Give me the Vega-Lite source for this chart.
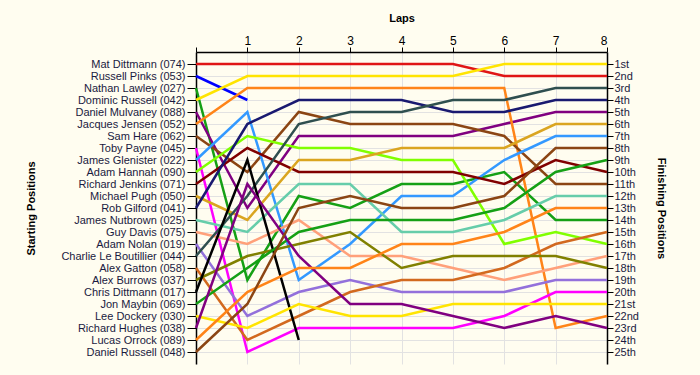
{
"$schema":"https://vega.github.io/schema/vega-lite/v6.json",
"width":411,"height":312,
"autosize":{"type":"none"},
"padding":{"left":196,"top":52,"right":93,"bottom":11},
"background":"#FFFDF0",
"config":{"view":{"stroke":null},"axis":{"labelFont":"Liberation Sans","titleFont":"Liberation Sans","labelFontSize":11,"titleFontSize":11,"titleFontWeight":"bold","titleColor":"#000","labelColor":"#1a1a40","domainColor":"#000","tickColor":"#000","gridColor":"#E2E2E2"}},
"datasets":{
"laps":[
{"d":1,"l":0,"p":1},{"d":1,"l":1,"p":1},{"d":1,"l":2,"p":1},{"d":1,"l":3,"p":1},{"d":1,"l":4,"p":1},{"d":1,"l":5,"p":1},{"d":1,"l":6,"p":2},{"d":1,"l":7,"p":2},{"d":1,"l":8,"p":2},
{"d":2,"l":0,"p":2},{"d":2,"l":1,"p":4},
{"d":3,"l":0,"p":3},{"d":3,"l":1,"p":19},{"d":3,"l":2,"p":12},{"d":3,"l":3,"p":13},{"d":3,"l":4,"p":11},{"d":3,"l":5,"p":11},{"d":3,"l":6,"p":10},{"d":3,"l":7,"p":14},{"d":3,"l":8,"p":14},
{"d":4,"l":0,"p":4},{"d":4,"l":1,"p":2},{"d":4,"l":2,"p":2},{"d":4,"l":3,"p":2},{"d":4,"l":4,"p":2},{"d":4,"l":5,"p":2},{"d":4,"l":6,"p":1},{"d":4,"l":7,"p":1},{"d":4,"l":8,"p":1},
{"d":5,"l":0,"p":5},{"d":5,"l":1,"p":13},{"d":5,"l":2,"p":7},{"d":5,"l":3,"p":7},{"d":5,"l":4,"p":7},{"d":5,"l":5,"p":7},{"d":5,"l":6,"p":6},{"d":5,"l":7,"p":5},{"d":5,"l":8,"p":5},
{"d":6,"l":0,"p":6},{"d":6,"l":1,"p":3},{"d":6,"l":2,"p":3},{"d":6,"l":3,"p":3},{"d":6,"l":4,"p":3},{"d":6,"l":5,"p":3},{"d":6,"l":6,"p":3},{"d":6,"l":7,"p":23},{"d":6,"l":8,"p":22},
{"d":7,"l":0,"p":7},{"d":7,"l":1,"p":10},{"d":7,"l":2,"p":5},{"d":7,"l":3,"p":6},{"d":7,"l":4,"p":6},{"d":7,"l":5,"p":6},{"d":7,"l":6,"p":7},{"d":7,"l":7,"p":11},{"d":7,"l":8,"p":11},
{"d":8,"l":0,"p":8},{"d":8,"l":1,"p":25},{"d":8,"l":2,"p":23},{"d":8,"l":3,"p":23},{"d":8,"l":4,"p":23},{"d":8,"l":5,"p":23},{"d":8,"l":6,"p":22},{"d":8,"l":7,"p":20},{"d":8,"l":8,"p":20},
{"d":9,"l":0,"p":9},{"d":9,"l":1,"p":5},{"d":9,"l":2,"p":19},{"d":9,"l":3,"p":16},{"d":9,"l":4,"p":12},{"d":9,"l":5,"p":12},{"d":9,"l":6,"p":9},{"d":9,"l":7,"p":7},{"d":9,"l":8,"p":7},
{"d":10,"l":0,"p":10},{"d":10,"l":1,"p":7},{"d":10,"l":2,"p":8},{"d":10,"l":3,"p":8},{"d":10,"l":4,"p":9},{"d":10,"l":5,"p":9},{"d":10,"l":6,"p":16},{"d":10,"l":7,"p":15},{"d":10,"l":8,"p":16},
{"d":11,"l":0,"p":11},{"d":11,"l":1,"p":8},{"d":11,"l":2,"p":10},{"d":11,"l":3,"p":10},{"d":11,"l":4,"p":10},{"d":11,"l":5,"p":10},{"d":11,"l":6,"p":11},{"d":11,"l":7,"p":9},{"d":11,"l":8,"p":10},
{"d":12,"l":0,"p":12},{"d":12,"l":1,"p":14},{"d":12,"l":2,"p":9},{"d":12,"l":3,"p":9},{"d":12,"l":4,"p":8},{"d":12,"l":5,"p":8},{"d":12,"l":6,"p":8},{"d":12,"l":7,"p":6},{"d":12,"l":8,"p":6},
{"d":13,"l":0,"p":13},{"d":13,"l":1,"p":6},{"d":13,"l":2,"p":4},{"d":13,"l":3,"p":4},{"d":13,"l":4,"p":4},{"d":13,"l":5,"p":5},{"d":13,"l":6,"p":5},{"d":13,"l":7,"p":4},{"d":13,"l":8,"p":4},
{"d":14,"l":0,"p":14},{"d":14,"l":1,"p":15},{"d":14,"l":2,"p":11},{"d":14,"l":3,"p":11},{"d":14,"l":4,"p":15},{"d":14,"l":5,"p":15},{"d":14,"l":6,"p":14},{"d":14,"l":7,"p":12},{"d":14,"l":8,"p":12},
{"d":15,"l":0,"p":15},{"d":15,"l":1,"p":16},{"d":15,"l":2,"p":14},{"d":15,"l":3,"p":17},{"d":15,"l":4,"p":17},{"d":15,"l":5,"p":18},{"d":15,"l":6,"p":19},{"d":15,"l":7,"p":18},{"d":15,"l":8,"p":17},
{"d":16,"l":0,"p":16},{"d":16,"l":1,"p":22},{"d":16,"l":2,"p":20},{"d":16,"l":3,"p":19},{"d":16,"l":4,"p":20},{"d":16,"l":5,"p":20},{"d":16,"l":6,"p":20},{"d":16,"l":7,"p":19},{"d":16,"l":8,"p":19},
{"d":17,"l":0,"p":17},{"d":17,"l":1,"p":12},{"d":17,"l":2,"p":6},{"d":17,"l":3,"p":5},{"d":17,"l":4,"p":5},{"d":17,"l":5,"p":4},{"d":17,"l":6,"p":4},{"d":17,"l":7,"p":3},{"d":17,"l":8,"p":3},
{"d":18,"l":0,"p":18},{"d":18,"l":1,"p":24},{"d":18,"l":2,"p":22},{"d":18,"l":3,"p":20},{"d":18,"l":4,"p":19},{"d":18,"l":5,"p":19},{"d":18,"l":6,"p":18},{"d":18,"l":7,"p":16},{"d":18,"l":8,"p":15},
{"d":19,"l":0,"p":19},{"d":19,"l":1,"p":17},{"d":19,"l":2,"p":16},{"d":19,"l":3,"p":15},{"d":19,"l":4,"p":18},{"d":19,"l":5,"p":17},{"d":19,"l":6,"p":17},{"d":19,"l":7,"p":17},{"d":19,"l":8,"p":18},
{"d":20,"l":0,"p":20},{"d":20,"l":1,"p":9},{"d":20,"l":2,"p":24},
{"d":21,"l":0,"p":21},{"d":21,"l":1,"p":18},{"d":21,"l":2,"p":15},{"d":21,"l":3,"p":14},{"d":21,"l":4,"p":14},{"d":21,"l":5,"p":14},{"d":21,"l":6,"p":13},{"d":21,"l":7,"p":10},{"d":21,"l":8,"p":9},
{"d":22,"l":0,"p":22},{"d":22,"l":1,"p":23},{"d":22,"l":2,"p":21},{"d":22,"l":3,"p":22},{"d":22,"l":4,"p":22},{"d":22,"l":5,"p":21},{"d":22,"l":6,"p":21},{"d":22,"l":7,"p":21},{"d":22,"l":8,"p":21},
{"d":23,"l":0,"p":23},{"d":23,"l":1,"p":11},{"d":23,"l":2,"p":17},{"d":23,"l":3,"p":21},{"d":23,"l":4,"p":21},{"d":23,"l":5,"p":22},{"d":23,"l":6,"p":23},{"d":23,"l":7,"p":22},{"d":23,"l":8,"p":23},
{"d":24,"l":0,"p":24},{"d":24,"l":1,"p":20},{"d":24,"l":2,"p":18},{"d":24,"l":3,"p":18},{"d":24,"l":4,"p":16},{"d":24,"l":5,"p":16},{"d":24,"l":6,"p":15},{"d":24,"l":7,"p":13},{"d":24,"l":8,"p":13},
{"d":25,"l":0,"p":25},{"d":25,"l":1,"p":21},{"d":25,"l":2,"p":13},{"d":25,"l":3,"p":12},{"d":25,"l":4,"p":13},{"d":25,"l":5,"p":13},{"d":25,"l":6,"p":12},{"d":25,"l":7,"p":8},{"d":25,"l":8,"p":8}
],
"starts":[{"n":"Mat Dittmann (074)"},{"n":"Russell Pinks (053)"},{"n":"Nathan Lawley (027)"},{"n":"Dominic Russell (042)"},{"n":"Daniel Mulvaney (088)"},{"n":"Jacques Jensen (052)"},{"n":"Sam Hare (062)"},{"n":"Toby Payne (045)"},{"n":"James Glenister (022)"},{"n":"Adam Hannah (090)"},{"n":"Richard Jenkins (071)"},{"n":"Michael Pugh (050)"},{"n":"Rob Gilford (041)"},{"n":"James Nutbrown (025)"},{"n":"Guy Davis (075)"},{"n":"Adam Nolan (019)"},{"n":"Charlie Le Boutillier (044)"},{"n":"Alex Gatton (058)"},{"n":"Alex Burrows (037)"},{"n":"Chris Dittmann (017)"},{"n":"Jon Maybin (069)"},{"n":"Lee Dockery (030)"},{"n":"Richard Hughes (038)"},{"n":"Lucas Orrock (089)"},{"n":"Daniel Russell (048)"}],
"fin":[{"f":"1st"},{"f":"2nd"},{"f":"3rd"},{"f":"4th"},{"f":"5th"},{"f":"6th"},{"f":"7th"},{"f":"8th"},{"f":"9th"},{"f":"10th"},{"f":"11th"},{"f":"12th"},{"f":"13th"},{"f":"14th"},{"f":"15th"},{"f":"16th"},{"f":"17th"},{"f":"18th"},{"f":"19th"},{"f":"20th"},{"f":"21st"},{"f":"22nd"},{"f":"23rd"},{"f":"24th"},{"f":"25th"}]
},
"layer":[
{"data":{"name":"starts"},
 "mark":{"type":"point","opacity":0},
 "encoding":{"y":{"field":"n","type":"nominal","sort":null,"scale":{"type":"point","padding":1},
   "axis":{"orient":"left","title":"Starting Positions","grid":true,"tickSize":9,"labelPadding":2,"titlePadding":24,"domainWidth":1.5}}}},
{"data":{"name":"fin"},
 "mark":{"type":"point","opacity":0},
 "encoding":{"y":{"field":"f","type":"nominal","sort":null,"scale":{"type":"point","padding":1},
   "axis":{"orient":"right","title":"Finishing Positions","titleAngle":90,"grid":false,"tickSize":6,"labelPadding":1,"titlePadding":17,"domainWidth":1.5}}}},
{"data":{"name":"laps"},
 "mark":{"type":"line","strokeWidth":2.5},
 "encoding":{
  "x":{"field":"l","type":"quantitative","scale":{"domain":[0,8],"nice":false},
    "axis":{"orient":"top","title":"Laps","values":[0,1,2,3,4,5,6,7,8],"labelExpr":"datum.value == 0 ? '' : datum.label","grid":true,"tickSize":5,"labelPadding":0,"labelFontSize":12,"labelColor":"#000","titlePadding":11,"domainWidth":1.5}},
  "y":{"field":"p","type":"quantitative","scale":{"domain":[0,26],"reverse":true,"nice":false,"zero":false},"axis":null},
  "color":{"field":"d","type":"nominal","legend":null,"scale":{"domain":[1,2,3,4,5,6,7,8,9,10,11,12,13,14,15,16,17,18,19,20,21,22,23,24,25],
    "range":["#E01515","#0000FF","#15A015","#FFE400","#800080","#FF8418","#8B4513","#FF00FF","#3399FF","#80FF00","#800000","#DAA520","#191970","#66CDAA","#FFA07A","#9370DB","#2F4F4F","#D2691E","#808000","#000000","#15A015","#FFE400","#800080","#FF8418","#8B4513"]}},
  "order":{"field":"l","type":"quantitative"}
 }}
],
"resolve":{"scale":{"y":"independent"},"axis":{"y":"independent"}}
}
